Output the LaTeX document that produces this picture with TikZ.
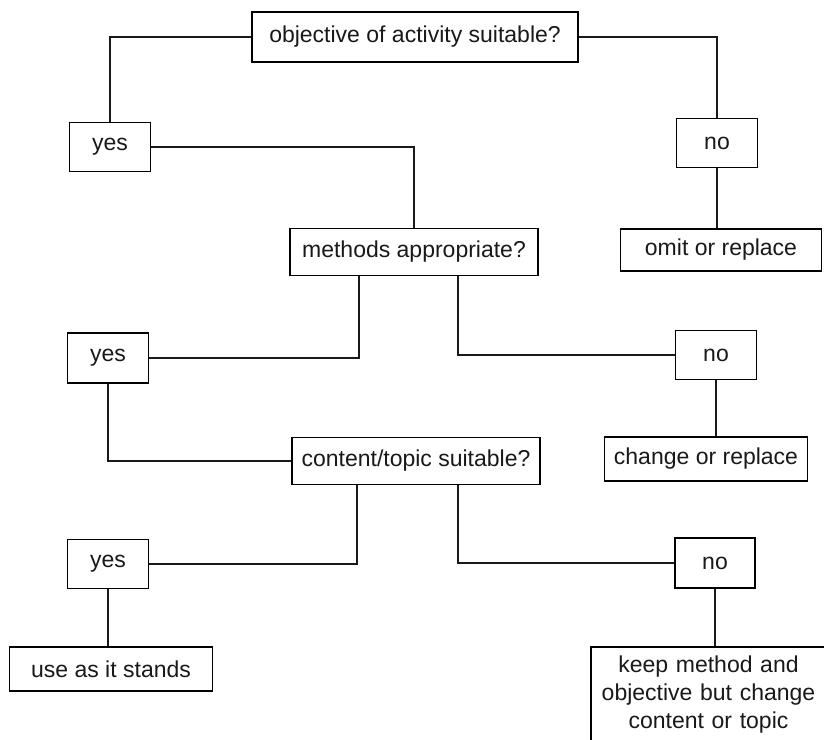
\documentclass[tikz,border=0pt]{standalone}
\usepackage{fontspec}
\setmainfont{Liberation Sans}
\begin{document}
\begin{tikzpicture}[x=1pt,y=-1pt,
  box/.style={draw=black, line width=1.5pt, fill=white, inner sep=0pt,
    font=\fontsize{23}{28}\selectfont, text=black!90},
  link/.style={draw=black!90, line width=1.1pt}]
  % page area, everything outside is cut away
  \fill[white] (0,0) rectangle (824,739);
  \useasboundingbox (0,0) rectangle (824,739);
  \clip (0,0) rectangle (824,739);

  % questions
  \node[box, minimum width=326pt, minimum height=50pt] (q1) at (415,37) {objective of activity suitable?};
  \node[box, minimum width=248pt, minimum height=47pt] (q2) at (414,252) {methods appropriate?};
  \node[box, minimum width=248pt, minimum height=47pt] (q3) at (416,461) {content/topic suitable?};

  % answers
  \node[box, minimum width=81pt, minimum height=49pt] (yes1) at (110,147) {yes};
  \node[box, minimum width=81pt, minimum height=49pt] (no1) at (717,143) {no};
  \node[box, minimum width=81pt, minimum height=50pt] (yes2) at (108,358) {yes};
  \node[box, minimum width=81pt, minimum height=49pt] (no2) at (716,355) {no};
  \node[box, minimum width=81pt, minimum height=49pt] (yes3) at (108,564) {yes};
  \node[box, minimum width=80pt, minimum height=50pt] (no3) at (715,563) {no};

  % outcomes
  \node[box, minimum width=201pt, minimum height=42pt] (omit) at (721,250) {omit or replace};
  \node[box, minimum width=203pt, minimum height=44pt] (change) at (706,459) {change or replace};
  \node[box, minimum width=203pt, minimum height=44pt] (use) at (111,669) {use as it stands};
  \node[box, anchor=north, text width=235pt, align=center, inner ysep=9pt,
        text height=17pt, text depth=110pt] (keep) at (708.5,646)
        {keep method and\\objective but change\\content or topic};

  % connectors
  \draw[link] (q1.west) -| (yes1.north);
  \draw[link] (q1.east) -| (no1.north);
  \draw[link] (yes1.east) -| (q2.north);
  \draw[link] (no1.south) -- (no1.south |- omit.north);

  \draw[link] ([xshift=-55pt]q2.south) |- (yes2.east);
  \draw[link] ([xshift=44pt]q2.south) |- (no2.west);
  \draw[link] (yes2.south) |- (q3.west);
  \draw[link] (no2.south) -- (no2.south |- change.north);

  \draw[link] ([xshift=-59pt]q3.south) |- (yes3.east);
  \draw[link] ([xshift=42pt]q3.south) |- (no3.west);
  \draw[link] (yes3.south) -- (yes3.south |- use.north);
  \draw[link] (no3.south) -- (no3.south |- keep.north);
\end{tikzpicture}
\end{document}
